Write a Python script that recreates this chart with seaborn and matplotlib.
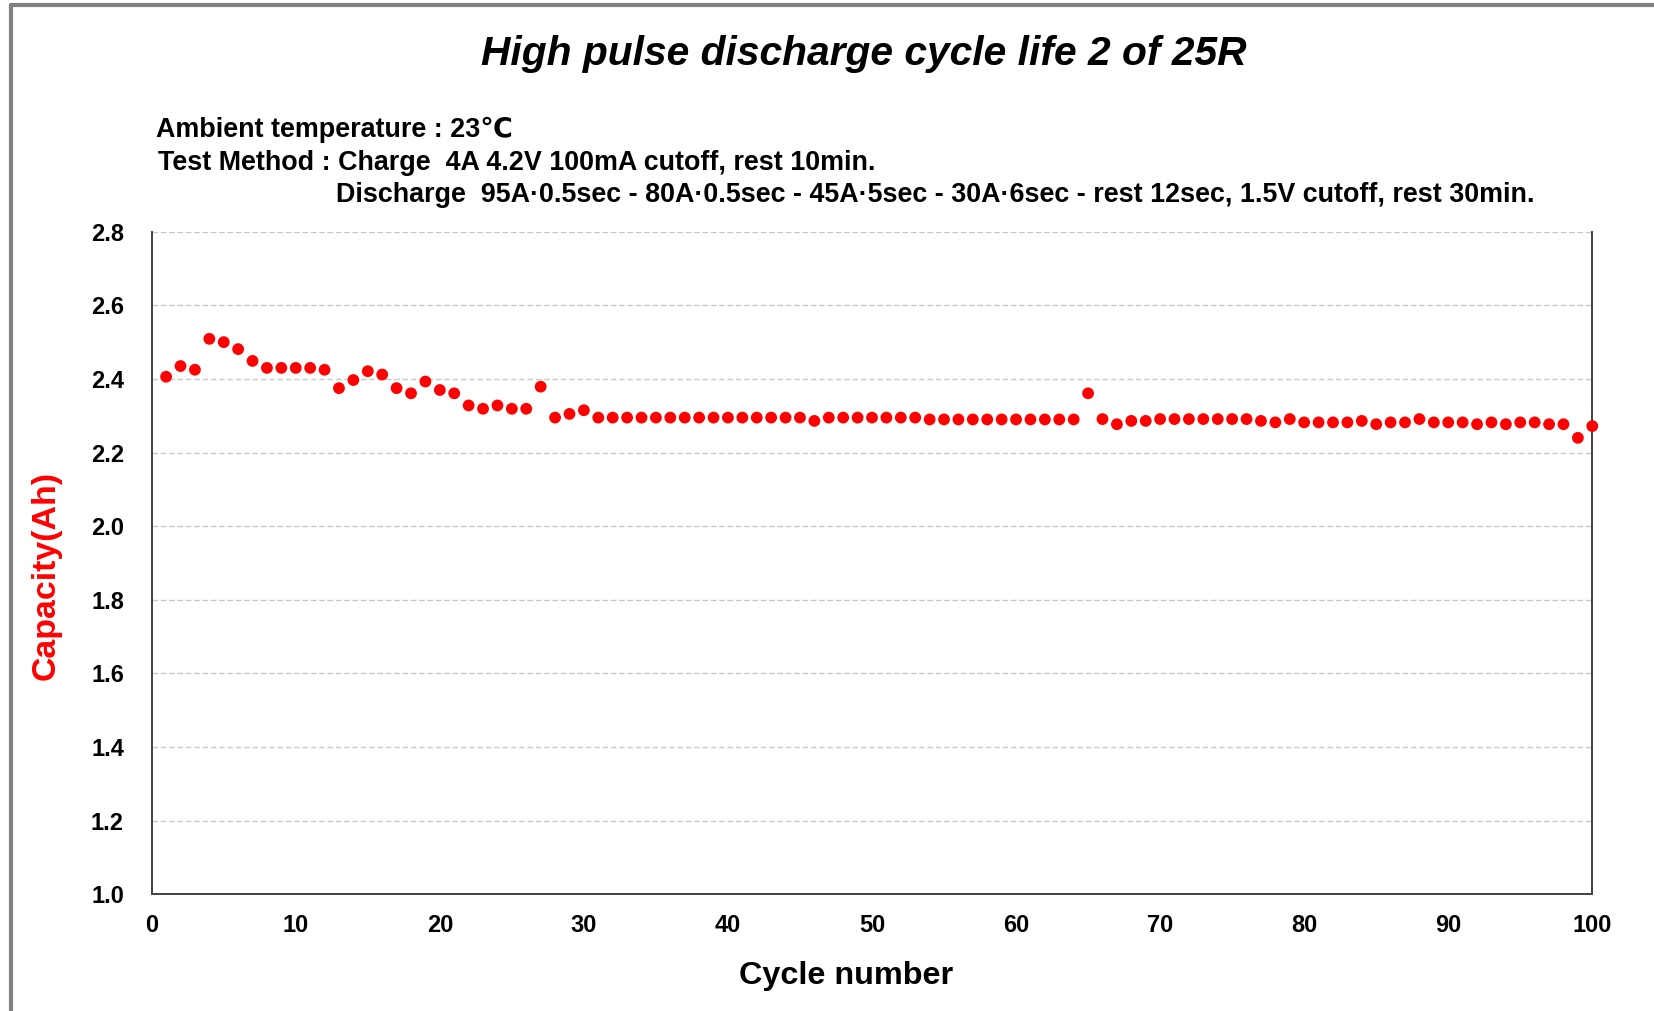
import matplotlib
matplotlib.use("Agg")
import matplotlib.pyplot as plt
import numpy as np
import pandas as pd
import seaborn as sns
from matplotlib.lines import Line2D

# data
cycles = list(range(1, 101))
capacity = [
    2.406, 2.435, 2.425, 2.509, 2.500, 2.481, 2.449, 2.430, 2.430, 2.430,
    2.430, 2.425, 2.375, 2.397, 2.421, 2.412, 2.375, 2.361, 2.393, 2.370,
    2.361, 2.328, 2.319, 2.328, 2.319, 2.319, 2.379, 2.295, 2.305, 2.315,
    2.295, 2.295, 2.295, 2.295, 2.295, 2.295, 2.295, 2.295, 2.295, 2.295,
    2.295, 2.295, 2.295, 2.295, 2.295, 2.286, 2.295, 2.295, 2.295, 2.295,
    2.295, 2.295, 2.295, 2.290, 2.290, 2.290, 2.290, 2.290, 2.290, 2.290,
    2.290, 2.290, 2.290, 2.290, 2.361, 2.291, 2.277, 2.286, 2.286, 2.291,
    2.291, 2.291, 2.291, 2.291, 2.291, 2.291, 2.286, 2.282, 2.291, 2.282,
    2.282, 2.282, 2.282, 2.286, 2.277, 2.282, 2.282, 2.291, 2.282, 2.282,
    2.282, 2.277, 2.282, 2.277, 2.282, 2.282, 2.277, 2.277, 2.240, 2.272,
]
x_ticks = [0, 10, 20, 30, 40, 50, 60, 70, 80, 90, 100]
y_ticks = [1.0, 1.2, 1.4, 1.6, 1.8, 2.0, 2.2, 2.4, 2.6, 2.8]

title = "High pulse discharge cycle life 2 of 25R"
note_lines = [
    "Ambient temperature : 23\u2103",
    "Test Method : Charge  4A 4.2V 100mA cutoff, rest 10min.",
    "Discharge  95A\u00b70.5sec - 80A\u00b70.5sec - 45A\u00b75sec - 30A\u00b76sec - rest 12sec, 1.5V cutoff, rest 30min.",
]

df = pd.DataFrame({"Cycle": cycles, "Capacity": capacity})

sns.set_style("white")
plt.rcParams['font.family'] = ['Liberation Sans', 'DejaVu Sans']
plt.rcParams['text.color'] = 'black'

W, H = 1654, 1011
fig = plt.figure(figsize=(W / 100, H / 100), dpi=100)
ax = fig.add_axes([151.7 / W, 1 - 894.3 / H, (1592.3 - 151.7) / W, (894.3 - 231.7) / H])

sns.scatterplot(data=df, x="Cycle", y="Capacity", ax=ax, color="#ff0000",
                s=72, edgecolor="none", clip_on=False, zorder=5)

ax.set_xlim(0, 100)
ax.set_ylim(1.0, 2.8)
ax.set_xticks(x_ticks)
ax.set_yticks(y_ticks)
ax.set_yticklabels([f"{v:.1f}" for v in y_ticks])
ax.yaxis.grid(True, color="#c8c8c8", linestyle=(0, (4, 2)), linewidth=1.0)
ax.set_axisbelow(True)

for side in ["left", "bottom", "right", "top"]:
    ax.spines[side].set_color("#404040")
    ax.spines[side].set_linewidth(1.4)
ax.spines["top"].set_visible(False)

ax.tick_params(axis="both", direction="in", length=6, width=1.1, color="#404040",
               labelsize=17, labelcolor="black")
ax.tick_params(axis="y", pad=20)
ax.tick_params(axis="x", pad=14)
for lab in ax.get_xticklabels() + ax.get_yticklabels():
    lab.set_fontweight("bold")

ax.set_xlabel("Cycle number", fontsize=23.3, fontweight="bold", color="black")
ax.xaxis.set_label_coords(0.482, -0.100)
ax.set_ylabel("Capacity(Ah)", fontsize=24.4, fontweight="bold", color="#ff0000")
ax.yaxis.set_label_coords(-0.0625, 0.481)

fig.text(864 / W, 1 - 54 / H, title, ha="center", va="center", color="black",
         fontsize=29.3, fontweight="bold", fontstyle="italic")
fig.text(156 / W, 1 - 130 / H, note_lines[0], ha="left", va="center", color="black",
         fontsize=19.4, fontweight="bold")
fig.text(158 / W, 1 - 163 / H, note_lines[1], ha="left", va="center", color="black",
         fontsize=19.4, fontweight="bold")
fig.text(336 / W, 1 - 195 / H, note_lines[2], ha="left", va="center", color="black",
         fontsize=19.4, fontweight="bold")

# outer frame (grey left and top edges)
fig.add_artist(Line2D([11 / W, 11 / W], [0, 1 - 5 / H], transform=fig.transFigure,
                      color="#808080", linewidth=3))
fig.add_artist(Line2D([11 / W, 1], [1 - 5 / H, 1 - 5 / H], transform=fig.transFigure,
                      color="#808080", linewidth=3))

fig.savefig("out.png", dpi=100)
